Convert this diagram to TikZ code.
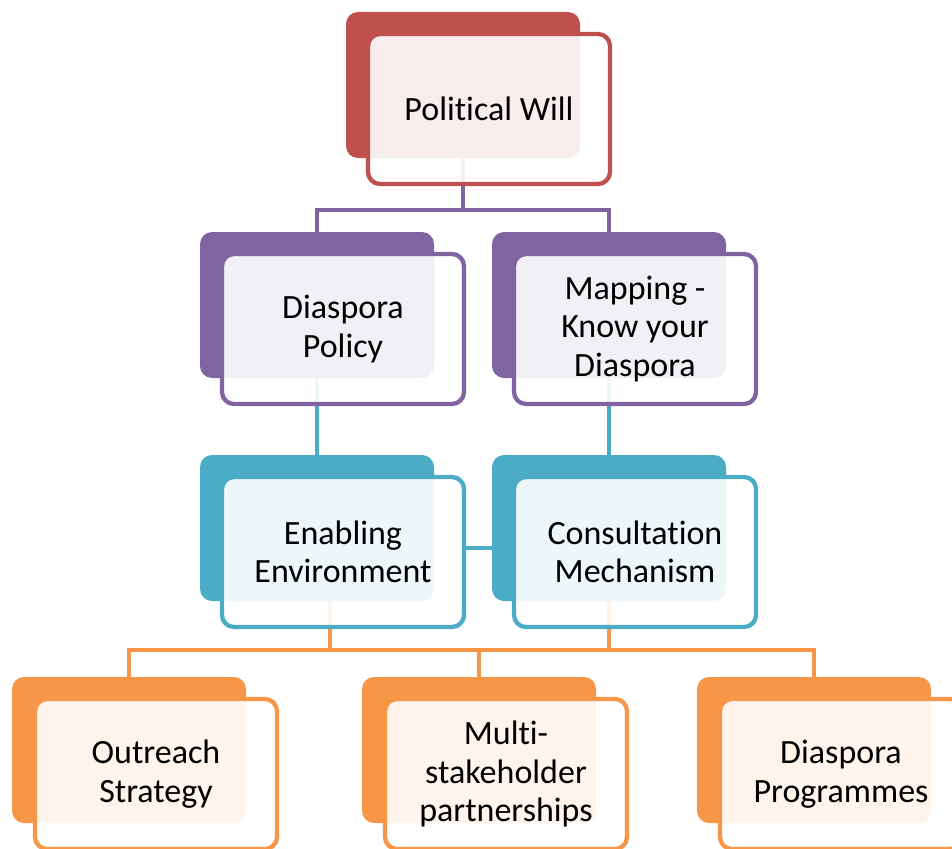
\documentclass[tikz,border=0pt]{standalone}
\usepackage{fontspec}
\setmainfont[RawFeature={-liga;-calt;-dlig}]{Carlito}
\usetikzlibrary{positioning, backgrounds}
\definecolor{wred}{HTML}{C0504D}
\definecolor{wpurple}{HTML}{8064A2}
\definecolor{wteal}{HTML}{4BACC6}
\definecolor{worange}{HTML}{F79646}

\begin{document}
\begin{tikzpicture}[x=1pt, y=1pt,
    backbox/.style={fill=#1, rounded corners=12pt, minimum width=234pt, minimum height=146pt,
        inner sep=0pt, outer sep=0pt, anchor=north west},
    frontbox/.style={draw=#1, line width=4.3pt, fill=white, fill opacity=0.9, text opacity=1,
        rounded corners=12pt, minimum width=242pt, minimum height=150pt, inner sep=0pt,
        outer sep=0pt, align=center, font=\fontsize{34}{38.5}\selectfont},
    conn/.style={draw=#1, line width=4.6pt}]
    \useasboundingbox (0,0) rectangle (952,-848);

    % top
    \node [backbox=wred] (will_b) at (346,-12) {};
    \node [frontbox=wred, below right=22pt and 22pt of will_b.north west] (will) {Political Will};

    % second row
    \node [backbox=wpurple] (pol_b) at (200,-232) {};
    \node [frontbox=wpurple, below right=22pt and 22pt of pol_b.north west] (pol) {Diaspora\\Policy};
    \node [backbox=wpurple] (map_b) at (492,-232) {};
    \node [frontbox=wpurple, below right=22pt and 22pt of map_b.north west] (map) {Mapping -\\Know your\\Diaspora};

    % third row
    \node [backbox=wteal] (env_b) at (200,-455) {};
    \node [frontbox=wteal, below right=22pt and 22pt of env_b.north west] (env) {Enabling\\Environment};
    \node [backbox=wteal] (con_b) at (492,-455) {};
    \node [frontbox=wteal, below right=22pt and 22pt of con_b.north west] (con) {Consultation\\Mechanism};

    % bottom row
    \node [backbox=worange] (out_b) at (12,-677) {};
    \node [frontbox=worange, below right=22pt and 23pt of out_b.north west] (out) {Outreach\\Strategy};
    \node [backbox=worange] (multi_b) at (362,-677) {};
    \node [frontbox=worange, below right=22pt and 23pt of multi_b.north west] (multi) {Multi-\\stakeholder\\partnerships};
    \node [backbox=worange] (prog_b) at (697,-677) {};
    \node [frontbox=worange, below right=22pt and 23pt of prog_b.north west] (prog) {Diaspora\\Programmes};

    \coordinate (bus1) at (0,-210);
    \coordinate (bus3) at (0,-650);
    \coordinate (env_o) at ([xshift=13pt]env_b.south);

    % connectors, behind the boxes
    \begin{scope}[on background layer]
        \draw [conn=wpurple] (will_b.south) -- (will_b.south |- bus1) -| (pol_b.north);
        \draw [conn=wpurple] (will_b.south |- bus1) -| (map_b.north);
        \draw [conn=wteal] (pol_b.south) -- (env_b.north);
        \draw [conn=wteal] (map_b.south) -- (con_b.north);
        \draw [conn=wteal] ([yshift=4pt]env.east) -- ([yshift=4pt]env.east -| con_b.west);
        \draw [conn=worange] (env_o) -- (env_o |- bus3) -| (out_b.north);
        \draw [conn=worange] (env_o |- bus3) -| (prog_b.north);
        \draw [conn=worange] (con_b.south) -- (con_b.south |- bus3);
        \draw [conn=worange] (multi_b.north |- bus3) -- (multi_b.north);
    \end{scope}
\end{tikzpicture}
\end{document}
